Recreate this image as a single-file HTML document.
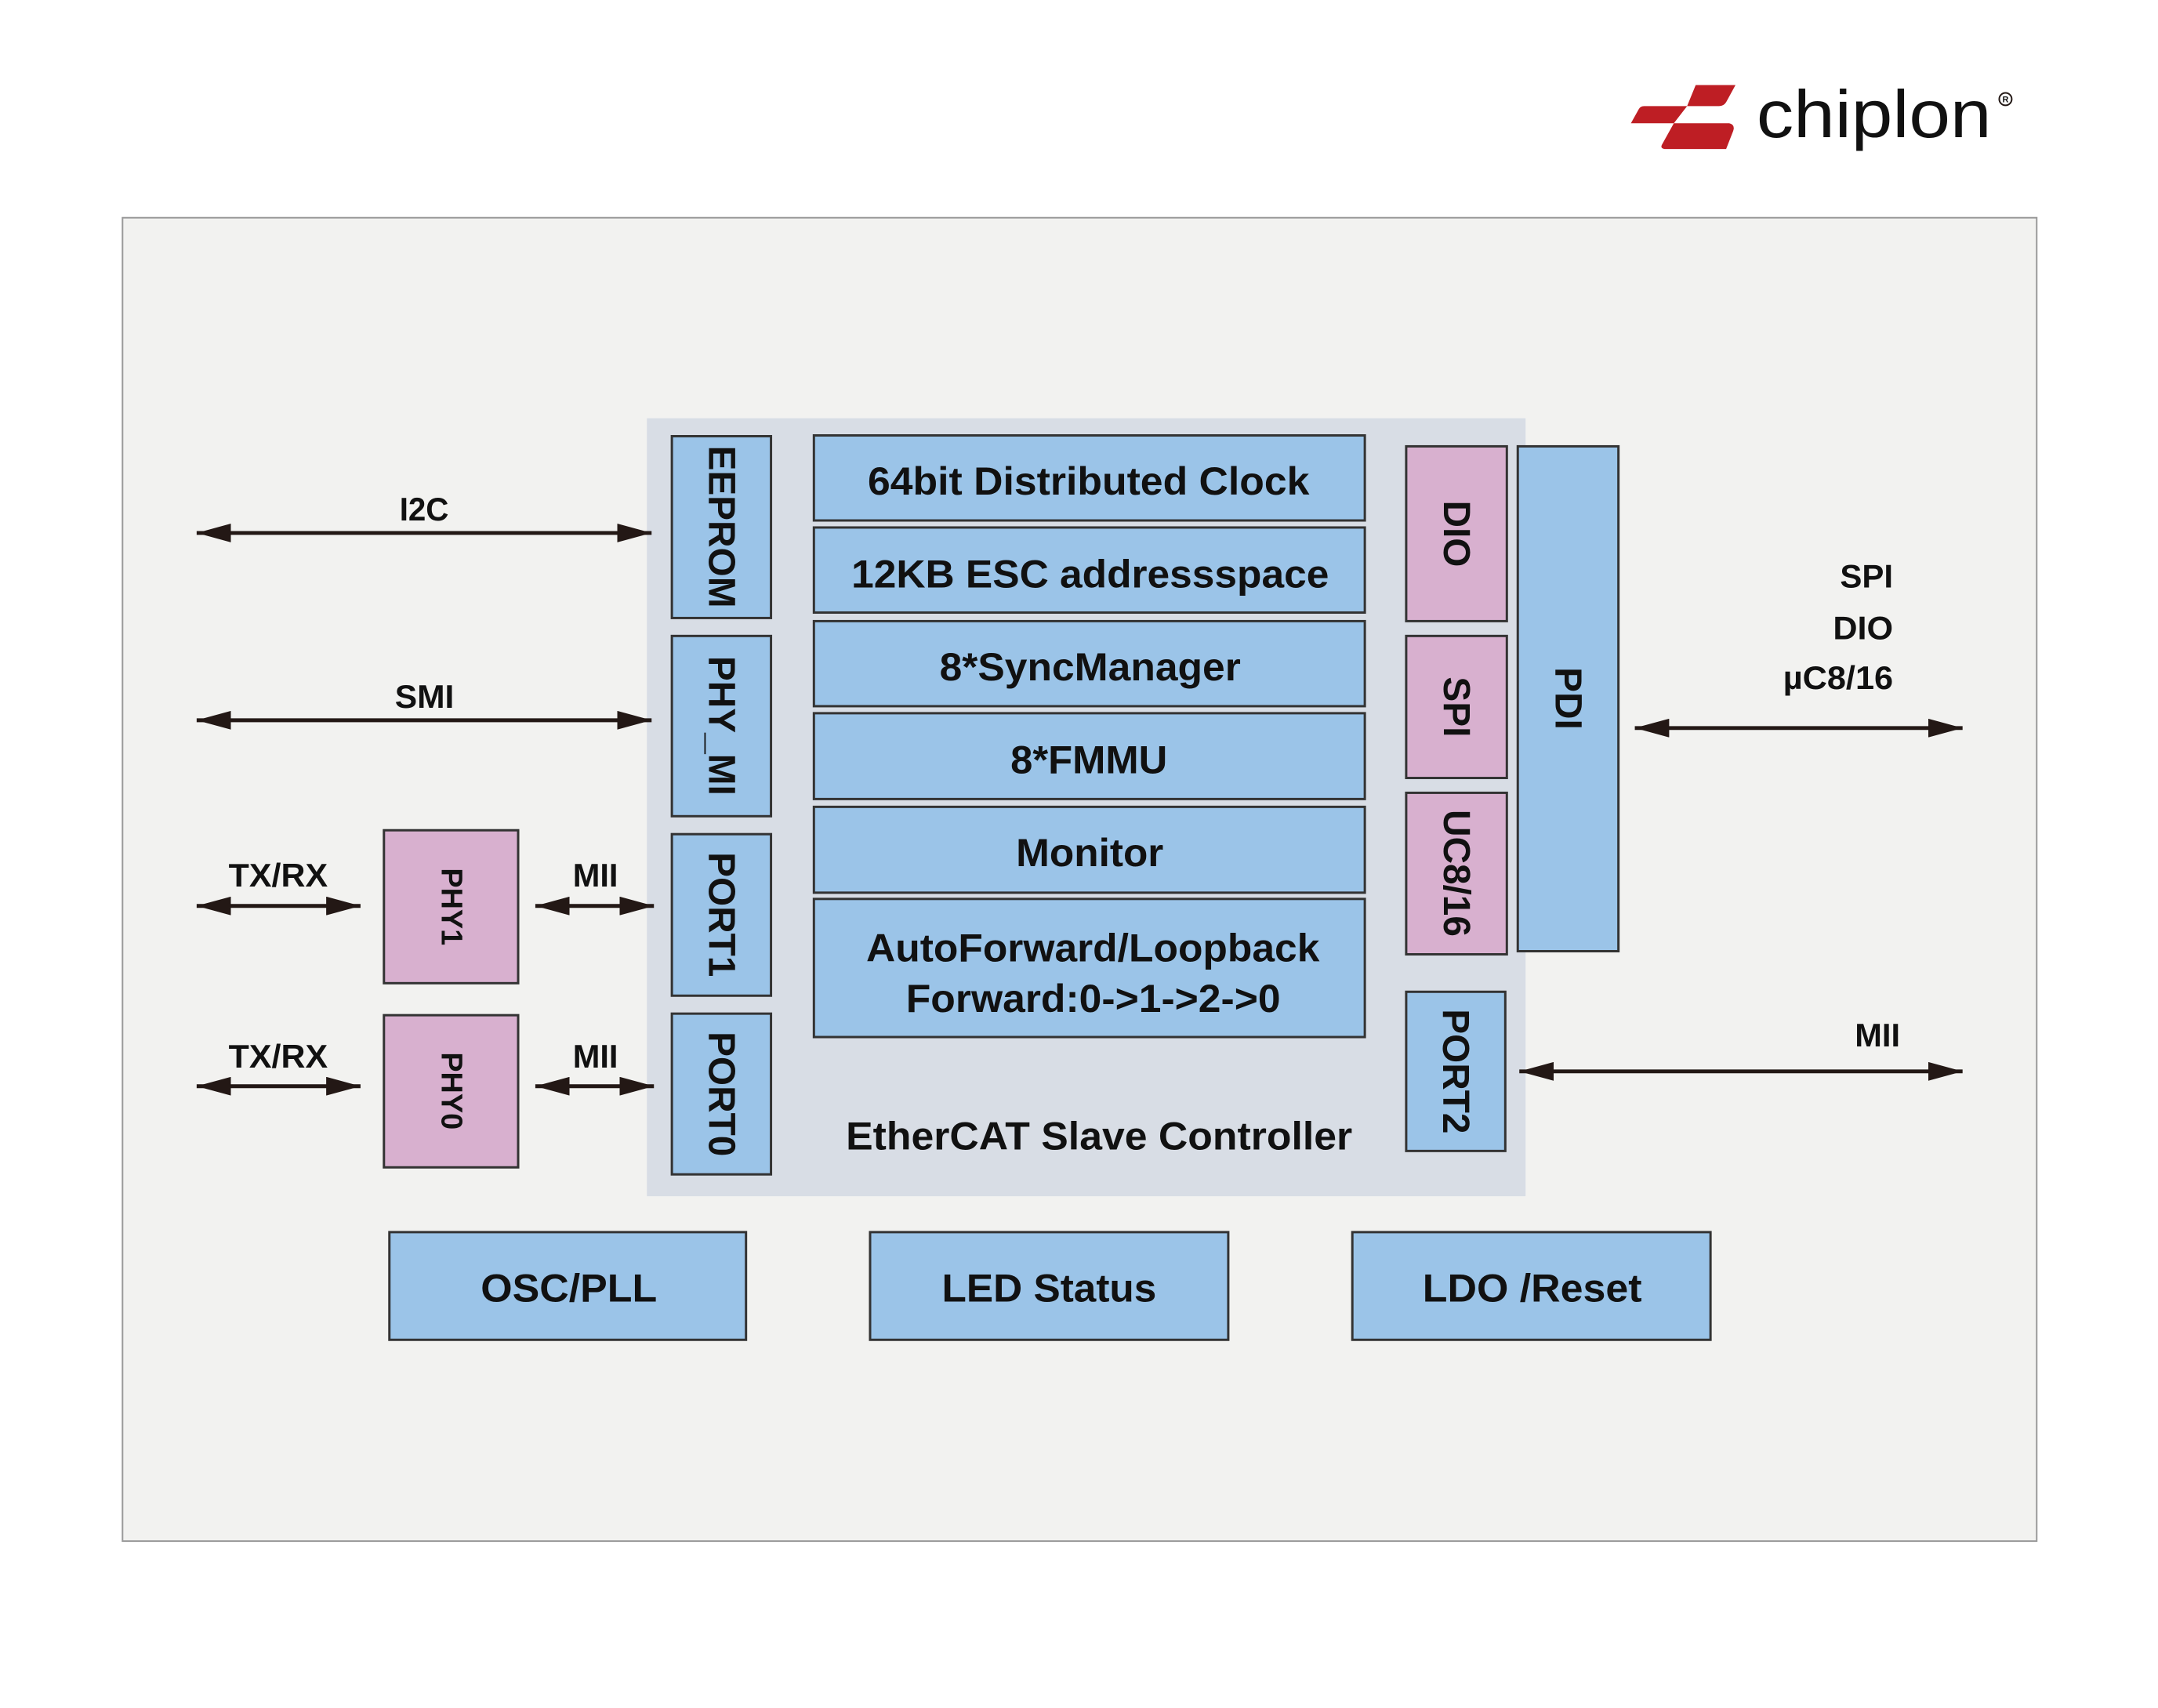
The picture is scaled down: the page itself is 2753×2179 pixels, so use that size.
<!DOCTYPE html>
<html><head><meta charset="utf-8"><style>
html,body{margin:0;padding:0;background:#fff;}
svg{display:block;}
text{font-family:"Liberation Sans",sans-serif;font-weight:bold;fill:#111;}
</style></head><body>
<svg width="2753" height="2179" viewBox="0 0 2753 2179" xmlns="http://www.w3.org/2000/svg">
<defs>
<marker id="ah" viewBox="0 0 44 24" refX="44" refY="12" markerWidth="44" markerHeight="24" markerUnits="userSpaceOnUse" orient="auto-start-reverse">
<path d="M0,0 L44,12 L0,24 Z" fill="#231815"/>
</marker>
</defs>
<rect width="2753" height="2179" fill="#fff"/>
<g transform="scale(0.9955)">
<!-- logo -->
<path d="M2173,109 L2224,109 L2212,131 Q2209,136 2203,136 L2162,136 Z" fill="#be1e24"/>
<path d="M2107,136 L2162,136 L2145,158 L2090,158 L2100,140 Q2102,136 2107,136 Z" fill="#be1e24"/>
<path d="M2145,158 L2216,158 Q2224,160 2221,168 L2212,191 L2133,191 Q2127,190 2130,185 Z" fill="#be1e24"/>
<text x="2251" y="176" font-size="86" style="font-weight:normal" fill="#231815" textLength="301" lengthAdjust="spacingAndGlyphs">chiplon</text>
<circle cx="2570" cy="127" r="8" fill="none" stroke="#231815" stroke-width="2"/>
<text x="2570" y="131" font-size="11" text-anchor="middle">R</text>
<!-- outer -->
<rect x="157" y="279" width="2453" height="1696" fill="#f2f2f0" stroke="#999" stroke-width="2"/>
<!-- ESC -->
<rect x="829" y="536" width="1126" height="997" fill="#d8dde5"/>
<g fill="#9bc4e8" stroke="#333" stroke-width="3">
<rect x="861" y="559" width="127" height="233"/>
<rect x="861" y="815" width="127" height="231"/>
<rect x="861" y="1069" width="127" height="207"/>
<rect x="861" y="1299" width="127" height="206"/>
<rect x="1043" y="558" width="706" height="109"/>
<rect x="1043" y="676" width="706" height="109"/>
<rect x="1043" y="796" width="706" height="109"/>
<rect x="1043" y="914" width="706" height="110"/>
<rect x="1043" y="1034" width="706" height="110"/>
<rect x="1043" y="1152" width="706" height="177"/>
<rect x="1945" y="572" width="129" height="647"/>
<rect x="1802" y="1271" width="127" height="204"/>
<rect x="499" y="1579" width="457" height="138"/>
<rect x="1115" y="1579" width="459" height="138"/>
<rect x="1733" y="1579" width="459" height="138"/>
</g>
<g fill="#d8b0cf" stroke="#333" stroke-width="3">
<rect x="1802" y="572" width="129" height="224"/>
<rect x="1802" y="815" width="129" height="182"/>
<rect x="1802" y="1016" width="129" height="207"/>
<rect x="492" y="1064" width="172" height="196"/>
<rect x="492" y="1301" width="172" height="195"/>
</g>
<g font-size="50">
<text x="1112" y="634" textLength="566" lengthAdjust="spacingAndGlyphs">64bit Distributed Clock</text>
<text x="1091" y="753" textLength="612" lengthAdjust="spacingAndGlyphs">12KB ESC addressspace</text>
<text x="1204" y="872" textLength="386" lengthAdjust="spacingAndGlyphs">8*SyncManager</text>
<text x="1295" y="991" textLength="201" lengthAdjust="spacingAndGlyphs">8*FMMU</text>
<text x="1302" y="1110" textLength="189" lengthAdjust="spacingAndGlyphs">Monitor</text>
<text x="1110" y="1232" textLength="581" lengthAdjust="spacingAndGlyphs">AutoForward/Loopback</text>
<text x="1161" y="1297" textLength="480" lengthAdjust="spacingAndGlyphs">Forward:0-&gt;1-&gt;2-&gt;0</text>
<text x="1084" y="1473" textLength="649" lengthAdjust="spacingAndGlyphs">EtherCAT Slave Controller</text>
<text x="616" y="1668" textLength="226" lengthAdjust="spacingAndGlyphs">OSC/PLL</text>
<text x="1207" y="1668" textLength="275" lengthAdjust="spacingAndGlyphs">LED Status</text>
<text x="1823" y="1668" textLength="281" lengthAdjust="spacingAndGlyphs">LDO /Reset</text>
</g>
<g font-size="42">
<text x="512" y="667" textLength="63" lengthAdjust="spacingAndGlyphs">I2C</text>
<text x="506" y="907" textLength="76" lengthAdjust="spacingAndGlyphs">SMI</text>
<text x="293" y="1136" textLength="127" lengthAdjust="spacingAndGlyphs">TX/RX</text>
<text x="293" y="1368" textLength="127" lengthAdjust="spacingAndGlyphs">TX/RX</text>
<text x="734" y="1136" textLength="58" lengthAdjust="spacingAndGlyphs">MII</text>
<text x="734" y="1368" textLength="58" lengthAdjust="spacingAndGlyphs">MII</text>
<text x="2377" y="1341" textLength="58" lengthAdjust="spacingAndGlyphs">MII</text>
<text x="2358" y="753" textLength="68" lengthAdjust="spacingAndGlyphs">SPI</text>
<text x="2349" y="819" textLength="77" lengthAdjust="spacingAndGlyphs">DIO</text>
<text x="2285" y="883" textLength="141" lengthAdjust="spacingAndGlyphs">µC8/16</text>
</g>
<g font-size="48" text-anchor="middle" dominant-baseline="central">
<text transform="translate(924,675) rotate(90)">EEPROM</text>
<text transform="translate(924,930) rotate(90)">PHY_MI</text>
<text transform="translate(924,1172) rotate(90)">PORT1</text>
<text transform="translate(924,1402) rotate(90)">PORT0</text>
<text transform="translate(1866,684) rotate(90)">DIO</text>
<text transform="translate(1866,906) rotate(90)">SPI</text>
<text transform="translate(1866,1119) rotate(90)">UC8/16</text>
<text transform="translate(2009,895) rotate(90)">PDI</text>
<text transform="translate(1865,1373) rotate(90)">PORT2</text>
</g>
<g font-size="38" text-anchor="middle" dominant-baseline="central">
<text transform="translate(578,1162) rotate(90)">PHY1</text>
<text transform="translate(578,1398) rotate(90)">PHY0</text>
</g>
<g stroke="#231815" stroke-width="5" fill="none" marker-start="url(#ah)" marker-end="url(#ah)">
<line x1="252" y1="683" x2="835" y2="683"/>
<line x1="252" y1="923" x2="835" y2="923"/>
<line x1="252" y1="1161" x2="462" y2="1161"/>
<line x1="686" y1="1161" x2="838" y2="1161"/>
<line x1="252" y1="1392" x2="462" y2="1392"/>
<line x1="686" y1="1392" x2="838" y2="1392"/>
<line x1="2095" y1="933" x2="2515" y2="933"/>
<line x1="1947" y1="1373" x2="2515" y2="1373"/>
</g>
</g>
</svg>
</body></html>
